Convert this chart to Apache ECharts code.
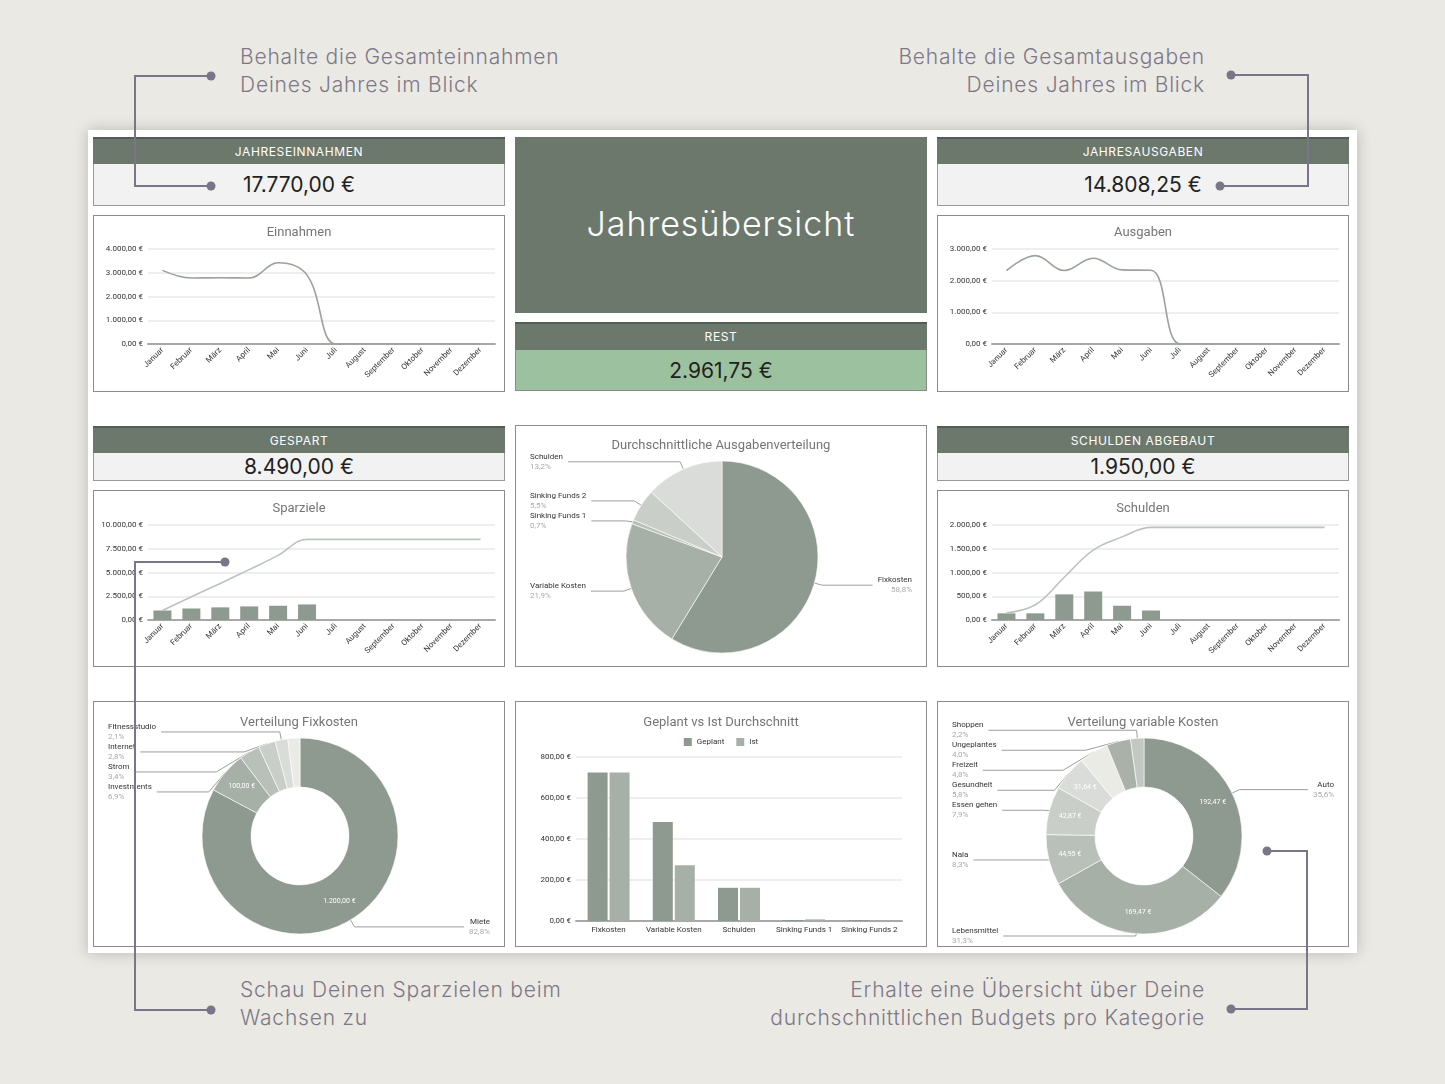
<!DOCTYPE html>
<html>
<head>
<meta charset="utf-8">
<title>Jahresübersicht</title>
<script src="https://cdn.jsdelivr.net/npm/echarts/dist/echarts.min.js"></script>
<style>
  body { margin: 0; width: 1445px; height: 1084px; background: #ebe9e4; position: relative; overflow: hidden; font-family: Inter, 'Open Sans', sans-serif; }
  .sheet { position: absolute; left: 88px; top: 130px; width: 1269px; height: 823px; background: #fff; box-shadow: 0 0 14px rgba(0,0,0,0.22); }
  .abs { position: absolute; box-sizing: border-box; }
  .hdr { background: #6d786d; color: #fff; font-size: 12px; letter-spacing: 0.6px; text-align: center; border-top: 2px solid #545d54; }
  .val { background: #f2f2f2; border: 1px solid #9a9a9a; border-top: none; color: #222; font-size: 21px; text-align: center; }
  .box { background: #fff; border: 1px solid #8c8c8c; }
  .note { position: absolute; color: #7d7888; font-size: 21px; font-weight: 300; line-height: 28px; letter-spacing: 0.8px; white-space: nowrap; }
  #overlay { position: absolute; left: 0; top: 0; width: 1445px; height: 1084px; z-index: 10; pointer-events: none; }
</style>
</head>
<body>
<div class="sheet"></div>

<div class="note" style="left:240px;top:43px">Behalte die Gesamteinnahmen<br>Deines Jahres im Blick</div>
<div class="note" style="right:240px;top:43px;text-align:right">Behalte die Gesamtausgaben<br>Deines Jahres im Blick</div>
<div class="note" style="left:240px;top:976px">Schau Deinen Sparzielen beim<br>Wachsen zu</div>
<div class="note" style="right:240px;top:976px;text-align:right">Erhalte eine Übersicht über Deine<br>durchschnittlichen Budgets pro Kategorie</div>

<!-- obere Reihe -->
<div class="abs hdr" style="left:93px;top:137px;width:412px;height:27px;line-height:25px">JAHRESEINNAHMEN</div>
<div class="abs val" style="left:93px;top:164px;width:412px;height:42px;line-height:42px">17.770,00 €</div>
<div class="abs box" id="einnahmen" style="left:93px;top:215px;width:412px;height:177px"></div>

<div class="abs" style="left:515px;top:137px;width:412px;height:176px;background:#6d786d;color:#fff;font-size:34px;font-weight:300;text-align:center;line-height:174px;letter-spacing:1px">Jahresübersicht</div>
<div class="abs hdr" style="left:515px;top:322px;width:412px;height:28px;line-height:26px">REST</div>
<div class="abs val" style="left:515px;top:350px;width:412px;height:41px;line-height:42px;background:#9bc19f;border-color:#8a8a8a">2.961,75 €</div>

<div class="abs hdr" style="left:937px;top:137px;width:412px;height:27px;line-height:25px">JAHRESAUSGABEN</div>
<div class="abs val" style="left:937px;top:164px;width:412px;height:42px;line-height:42px">14.808,25 €</div>
<div class="abs box" id="ausgaben" style="left:937px;top:215px;width:412px;height:177px"></div>

<!-- mittlere Reihe -->
<div class="abs hdr" style="left:93px;top:426px;width:412px;height:27px;line-height:25px">GESPART</div>
<div class="abs val" style="left:93px;top:453px;width:412px;height:28px;line-height:28px">8.490,00 €</div>
<div class="abs box" id="sparziele" style="left:93px;top:490px;width:412px;height:177px"></div>

<div class="abs box" id="verteilung" style="left:515px;top:425px;width:412px;height:242px"></div>

<div class="abs hdr" style="left:937px;top:426px;width:412px;height:27px;line-height:25px">SCHULDEN ABGEBAUT</div>
<div class="abs val" style="left:937px;top:453px;width:412px;height:28px;line-height:28px">1.950,00 €</div>
<div class="abs box" id="schulden" style="left:937px;top:490px;width:412px;height:177px"></div>

<!-- untere Reihe -->
<div class="abs box" id="fixkosten" style="left:93px;top:701px;width:412px;height:246px"></div>
<div class="abs box" id="geplant" style="left:515px;top:701px;width:412px;height:246px"></div>
<div class="abs box" id="variabel" style="left:937px;top:701px;width:412px;height:246px"></div>

<div id="overlay"></div>

<script>
// Daten
const months = ['Januar', 'Februar', 'März', 'April', 'Mai', 'Juni', 'Juli', 'August', 'September', 'Oktober', 'November', 'Dezember']
const einnahmen = [3100, 2780, 2790, 2780, 3420, 2900, 0, 0, 0, 0, 0, 0]
const ausgaben = [2320, 2790, 2320, 2710, 2340, 2328.25, 0, 0, 0, 0, 0, 0]
const sparBars = [1000, 1210, 1330, 1430, 1500, 1640, 0, 0, 0, 0, 0, 0]
const sparLine = [1000, 2450, 3850, 5300, 6800, 8490, 8490, 8490, 8490, 8490, 8490, 8490]
const schuldenBars = [140, 140, 540, 600, 300, 200, 0, 0, 0, 0, 0, 0]
const schuldenLine = [150, 320, 900, 1470, 1750, 1950, 1950, 1950, 1950, 1950, 1950, 1950]

// Anteile in Prozent
const verteilungNames = ['Fixkosten', 'Variable Kosten', 'Sinking Funds 1', 'Sinking Funds 2', 'Schulden']
const verteilungValues = [58.8, 21.9, 0.7, 5.5, 13.2]

const fixNames = ['Miete', 'Investments', 'Strom', 'Internet', 'Fitnessstudio', 'Sonstiges']
const fixValues = [1200, 100, 49.5, 40.5, 30.5, 29]

const varNames = ['Auto', 'Lebensmittel', 'Nala', 'Essen gehen', 'Gesundheit', 'Freizeit', 'Ungeplantes', 'Shoppen']
const varValues = [192.47, 169.47, 44.95, 42.87, 31.64, 26.0, 21.6, 11.9]

const budgetCats = ['Fixkosten', 'Variable Kosten', 'Schulden', 'Sinking Funds 1', 'Sinking Funds 2']
const geplant = [725, 483, 162, 5, 4]
const ist = [725, 272, 162, 8, 2]

const sage = ['#8e998f', '#a6b0a7', '#b9c0b9', '#c9cec9', '#d9dcd9', '#ebebe6']

function eur(v) {
  const s = Math.abs(v).toFixed(2).split('.')
  const i = s[0].replace(/\B(?=(\d{3})+(?!\d))/g, '.')
  return (v < 0 ? '-' : '') + i + ',' + s[1] + ' €'
}

const FONT = 'Roboto'

function titleOpt(text, top) {
  return {
    text: text,
    left: 'center',
    top: top,
    textStyle: { fontSize: 13, fontWeight: 'normal', color: '#757575', fontFamily: FONT }
  }
}

function monthAxis() {
  return {
    type: 'category',
    data: months,
    axisTick: { show: false },
    axisLine: { lineStyle: { color: '#a8a8a8', width: 2 } },
    axisLabel: { rotate: 45, fontSize: 8, color: '#333', margin: 5, fontFamily: FONT }
  }
}

function valueAxis(max, interval) {
  return {
    type: 'value',
    min: 0,
    max: max,
    interval: interval,
    axisLabel: { formatter: eur, fontSize: 8, color: '#333', margin: 5, fontFamily: FONT },
    splitLine: { lineStyle: { color: '#e8e8e8', width: 1.5 } }
  }
}

function lineChart(id, title, data, max, interval) {
  const chart = echarts.init(document.getElementById(id))
  chart.setOption({
    animation: false,
    title: titleOpt(title, 5),
    grid: { left: 54, right: 9, top: 33, bottom: 47 },
    xAxis: monthAxis(),
    yAxis: valueAxis(max, interval),
    series: [{
      type: 'line',
      data: data,
      smooth: 0.4,
      symbol: 'none',
      lineStyle: { color: '#9aa39a', width: 1.6 }
    }]
  })
}

function comboChart(id, title, bars, line, max, interval) {
  const chart = echarts.init(document.getElementById(id))
  chart.setOption({
    animation: false,
    title: titleOpt(title, 6),
    grid: { left: 54, right: 9, top: 34, bottom: 46 },
    xAxis: monthAxis(),
    yAxis: valueAxis(max, interval),
    series: [
      {
        type: 'bar',
        data: bars,
        barWidth: 18,
        itemStyle: { color: '#8e998f' }
      },
      {
        type: 'line',
        data: line,
        smooth: 0.4,
        symbol: 'none',
        lineStyle: { color: '#bcc3bc', width: 1.6 }
      }
    ]
  })
}

function pct(v, arr) {
  const total = arr.reduce((a, b) => a + b, 0)
  return (v / total * 100).toFixed(1).replace('.', ',') + '%'
}

function pieChart(id, title, names, values, colors, opts) {
  const chart = echarts.init(document.getElementById(id))
  const hide = opts.hide || []
  const data = names.map((n, i) => ({
    name: n,
    value: values[i],
    itemStyle: { color: colors[i] },
    label: hide.indexOf(n) >= 0 ? { show: false } : undefined,
    labelLine: hide.indexOf(n) >= 0 ? { show: false } : undefined
  }))
  const series = [{
    type: 'pie',
    center: opts.center,
    radius: opts.radius,
    startAngle: 90,
    clockwise: true,
    data: data,
    itemStyle: { borderColor: '#fff', borderWidth: 0.6 },
    label: {
      alignTo: 'edge',
      edgeDistance: 14,
      formatter: p => '{n|' + p.name + '}\n{p|' +
        (opts.isPercent ? p.value.toFixed(1).replace('.', ',') + '%' : pct(p.value, values)) + '}',
      rich: {
        n: { fontSize: 8, color: '#333', fontFamily: FONT, lineHeight: 10 },
        p: { fontSize: 8, color: '#aaa', fontFamily: FONT, lineHeight: 10 }
      }
    },
    labelLine: { length: 8, length2: 10, lineStyle: { color: '#9e9e9e', width: 1 } }
  }]
  if (opts.inner) {
    const total = values.reduce((a, b) => a + b, 0)
    series.push({
      type: 'pie',
      center: opts.center,
      radius: opts.radius,
      startAngle: 90,
      clockwise: true,
      silent: true,
      data: names.map((n, i) => ({ name: n, value: values[i] })),
      itemStyle: { color: 'transparent' },
      label: {
        position: 'inside',
        fontSize: 7,
        color: '#fff',
        fontFamily: FONT,
        formatter: p => (p.value / total >= 0.05 ? eur(p.value) : '')
      },
      labelLine: { show: false }
    })
  }
  chart.setOption({
    animation: false,
    title: titleOpt(title, opts.titleTop),
    series: series
  })
}

lineChart('einnahmen', 'Einnahmen', einnahmen, 4000, 1000)
lineChart('ausgaben', 'Ausgaben', ausgaben, 3000, 1000)
comboChart('sparziele', 'Sparziele', sparBars, sparLine, 10000, 2500)
comboChart('schulden', 'Schulden', schuldenBars, schuldenLine, 2000, 500)

pieChart('verteilung', 'Durchschnittliche Ausgabenverteilung', verteilungNames, verteilungValues,
  ['#8e998f', '#a6b0a7', '#b9c0b9', '#c9cec9', '#d9dcd9'],
  { center: [206, 131], radius: 96, titleTop: 8, isPercent: true })

pieChart('fixkosten', 'Verteilung Fixkosten', fixNames, fixValues, sage,
  { center: [206, 134], radius: [49, 98], titleTop: 9, inner: true, hide: ['Sonstiges'] })

pieChart('variabel', 'Verteilung variable Kosten', varNames, varValues,
  ['#8e998f', '#a6b0a7', '#b9c0b9', '#c9cec9', '#d9dcd9', '#ebebe6', '#a9b1a9', '#c2c8c2'],
  { center: [206, 134], radius: [49, 98], titleTop: 9, inner: true })

// Geplant vs Ist
const budgetChart = echarts.init(document.getElementById('geplant'))
budgetChart.setOption({
  animation: false,
  title: titleOpt('Geplant vs Ist Durchschnitt', 9),
  legend: {
    top: 31,
    left: 'center',
    icon: 'rect',
    itemWidth: 8,
    itemHeight: 8,
    itemGap: 12,
    textStyle: { fontSize: 8, color: '#333', fontFamily: FONT }
  },
  grid: { left: 60, right: 24, top: 55, bottom: 25 },
  xAxis: {
    type: 'category',
    data: budgetCats,
    axisTick: { show: false },
    axisLine: { lineStyle: { color: '#a8a8a8', width: 2 } },
    axisLabel: { interval: 0, fontSize: 8, color: '#333', margin: 5, fontFamily: FONT }
  },
  yAxis: valueAxis(800, 200),
  series: [
    { name: 'Geplant', type: 'bar', data: geplant, barWidth: 20, barGap: '10%', itemStyle: { color: '#8e998f' } },
    { name: 'Ist', type: 'bar', data: ist, barWidth: 20, itemStyle: { color: '#a6b0a7' } }
  ]
})

// Verbindungslinien der Hinweise
const overlay = echarts.init(document.getElementById('overlay'))
const connectors = [
  [[211, 76], [135, 76], [135, 186], [211, 186]],
  [[1231, 75], [1308, 75], [1308, 186], [1220, 186]],
  [[225, 562], [135, 562], [135, 1010], [211, 1010]],
  [[1267, 851], [1307, 851], [1307, 1009], [1231, 1009]]
]
const lineColor = '#7a7588'
const elements = []
connectors.forEach(pts => {
  elements.push({ type: 'polyline', shape: { points: pts }, style: { stroke: lineColor, lineWidth: 2, fill: null } })
  elements.push({ type: 'circle', shape: { cx: pts[0][0], cy: pts[0][1], r: 4.5 }, style: { fill: lineColor } })
  elements.push({ type: 'circle', shape: { cx: pts[3][0], cy: pts[3][1], r: 4.5 }, style: { fill: lineColor } })
})
overlay.setOption({ animation: false, graphic: elements })
</script>
</body>
</html>
